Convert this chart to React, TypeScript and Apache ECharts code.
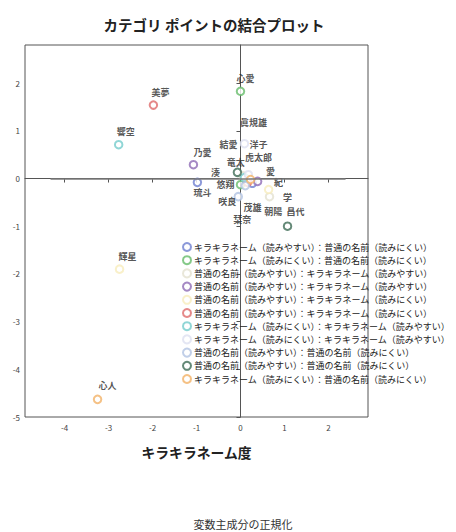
import React, { useEffect, useRef } from "react";
import * as echarts from "echarts";

// ---- data ----
const TITLE = "カテゴリ ポイントの結合プロット";
const X_NAME = "キラキラネーム度";
const FOOTER = "変数主成分の正規化";

const SERIES_NAMES = [
  "キラキラネーム（読みやすい）：普通の名前（読みにくい）",
  "キラキラネーム（読みにくい）：普通の名前（読みにくい）",
  "普通の名前（読みやすい）：キラキラネーム（読みやすい）",
  "普通の名前（読みやすい）：キラキラネーム（読みやすい） ",
  "普通の名前（読みやすい）：キラキラネーム（読みにくい）",
  "普通の名前（読みやすい）：キラキラネーム（読みにくい） ",
  "キラキラネーム（読みにくい）：キラキラネーム（読みやすい）",
  "キラキラネーム（読みにくい）：キラキラネーム（読みやすい） ",
  "普通の名前（読みやすい）：普通の名前（読みにくい）",
  "普通の名前（読みやすい）：普通の名前（読みにくい） ",
  "キラキラネーム（読みにくい）：普通の名前（読みにくい） ",
];

const CATEGORY_NAMES = [
  ["琉斗", "朝陽"],
  ["心愛", "悠翔"],
  ["竜太", "学"],
  ["乃愛", "愛"],
  ["輝星", "紀"],
  ["美夢", "洋子"],
  ["響空", "結愛"],
  ["眞規雄", "虎太郎"],
  ["咲良", "栞奈"],
  ["昌代", "湊"],
  ["心人", "茂雄"],
];

const DIM1 = [
  [-0.98, 0.27],
  [0.0, 0.0],
  [0.05, 0.66],
  [-1.07, 0.39],
  [-2.75, 0.64],
  [-1.98, 0.16],
  [-2.77, 0.09],
  [0.09, 0.18],
  [-0.05, 0.11],
  [1.07, -0.07],
  [-3.25, 0.23],
];

const DIM2 = [
  [-0.08, -0.1],
  [1.83, -0.13],
  [0.06, -0.38],
  [0.29, -0.06],
  [-1.9, -0.23],
  [1.54, -0.08],
  [0.71, 0.02],
  [0.73, 0.08],
  [-0.38, -0.15],
  [-1.0, 0.13],
  [-4.63, -0.02],
];

const REF_LINE_X = [-4.32, 2.39];

// ---- styles / layout ----
const COLORS = [
  "#6f7fcf",
  "#66bb6a",
  "#e4e1d0",
  "#8e6bb5",
  "#f8ecbc",
  "#de6b6b",
  "#74cccc",
  "#dde0f0",
  "#b2c3e2",
  "#3d6b55",
  "#f2b266",
];

const LABEL_OFFSETS: Record<string, [number, number]> = {
  心愛: [5, -13],
  美夢: [7, -13],
  響空: [7, -13],
  乃愛: [9, -12],
  輝星: [8, -13],
  心人: [10, -14],
  昌代: [8, -15],
  眞規雄: [9, -21],
  琉斗: [5, 10],
  咲良: [-11, 5],
  学: [18, 1],
  紀: [10, -7],
  愛: [13, -10],
  湊: [-22, 0],
  悠翔: [-15, 0],
  竜太: [-7, -13],
  虎太郎: [10, -17],
  結愛: [-16, -33],
  洋子: [11, -38],
  茂雄: [2, 28],
  朝陽: [21, 28],
  栞奈: [-3, 34],
};

const FONT = '"Noto Sans CJK JP", "Noto Sans", sans-serif';

export default function App() {
  const ref = useRef<HTMLDivElement>(null);

  useEffect(() => {
    document.body.style.margin = "0";
    const chart = echarts.init(ref.current!, null, { renderer: "svg" });

    const scatterSeries = SERIES_NAMES.map((name, i) => ({
      type: "scatter",
      name,
      symbol: "emptyCircle",
      symbolSize: 7.5,
      z: 3,
      itemStyle: { color: COLORS[i], borderColor: COLORS[i], borderWidth: 1.2 },
      data: CATEGORY_NAMES[i].map((n, j) => ({
        name: n,
        value: [DIM1[i][j], DIM2[i][j]],
        label: {
          show: true,
          position: "inside",
          offset: LABEL_OFFSETS[n] || [0, -12],
          formatter: n,
          fontSize: 9,
          fontWeight: "bold",
          color: "#2a2a2a",
          fontFamily: FONT,
          align: "center",
          verticalAlign: "middle",
        },
      })),
    }));

    const option: any = {
      animation: false,
      backgroundColor: "#ffffff",
      textStyle: { fontFamily: FONT },
      grid: {
        left: 25,
        right: 88,
        top: 45,
        bottom: 115,
        show: true,
        borderColor: "#555555",
        borderWidth: 1,
        backgroundColor: "transparent",
      },
      graphic: [
        {
          type: "text",
          x: 214,
          y: 24,
          style: {
            text: TITLE,
            fill: "#222222",
            font: `bold 14.5px ${FONT}`,
            align: "center",
            verticalAlign: "middle",
          },
        },
        {
          type: "text",
          x: 243,
          y: 524,
          style: {
            text: FOOTER,
            fill: "#333333",
            font: `11px ${FONT}`,
            align: "center",
            verticalAlign: "middle",
          },
        },
      ],
      legend: {
        data: SERIES_NAMES,
        orient: "vertical",
        left: 182,
        top: 242,
        itemWidth: 8,
        itemHeight: 8,
        itemGap: 3.2,
        padding: 0,
        textStyle: {
          fontSize: 9,
          lineHeight: 10,
          color: "#222222",
          fontFamily: FONT,
          padding: [0, 0, 0, -2],
        },
      },
      xAxis: {
        type: "value",
        min: -4.9,
        max: 2.9,
        splitNumber: 8,
        name: X_NAME,
        nameLocation: "middle",
        nameGap: 28,
        nameTextStyle: { fontSize: 13.8, fontWeight: "bold", color: "#222222", fontFamily: FONT },
        axisLine: { show: true, lineStyle: { color: "#555555", width: 1 } },
        axisTick: { show: true, length: 4, lineStyle: { color: "#555555" } },
        axisLabel: {
          fontSize: 8,
          color: "#444444",
          margin: 6,
          showMinLabel: false,
          showMaxLabel: false,
          formatter: (v: number) => (Number.isInteger(v) ? String(v) : ""),
        },
        splitLine: { show: false },
      },
      yAxis: {
        type: "value",
        min: -5,
        max: 2.8,
        splitNumber: 8,
        axisLine: { show: true, lineStyle: { color: "#555555", width: 1 } },
        axisTick: { show: true, length: 4, lineStyle: { color: "#555555" } },
        axisLabel: {
          fontSize: 8,
          color: "#444444",
          margin: 5,
          showMaxLabel: false,
          formatter: (v: number) => (Number.isInteger(v) ? String(v) : ""),
        },
        splitLine: { show: false },
      },
      series: [
        {
          type: "line",
          name: "ref",
          data: [],
          z: 1,
          markLine: {
            silent: true,
            symbol: ["none", "none"],
            label: { show: false },
            lineStyle: { color: "#7a7a7a", width: 1.6, type: "solid" },
            data: [[{ coord: [REF_LINE_X[0], 0] }, { coord: [REF_LINE_X[1], 0] }]],
          },
        },
        ...scatterSeries,
      ],
    };

    chart.setOption(option);
    return () => chart.dispose();
  }, []);

  return <div ref={ref} style={{ width: 456, height: 532 }} />;
}
